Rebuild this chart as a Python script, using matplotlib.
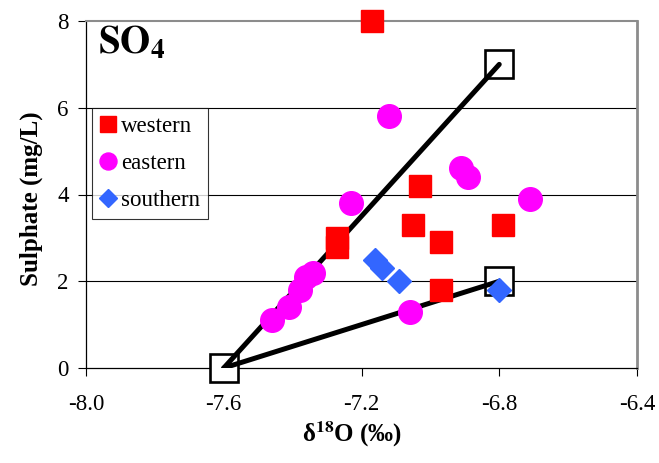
import matplotlib
matplotlib.use('Agg')
import matplotlib.pyplot as plt

plt.rcParams['font.family'] = ['Liberation Serif', 'DejaVu Serif']
plt.rcParams['mathtext.fontset'] = 'stix'

# Dữ liệu
western_x = [-7.17, -7.03, -7.05, -6.97, -6.79, -7.27, -7.27, -6.97]
western_y = [8.0, 4.2, 3.3, 2.9, 3.3, 3.0, 2.8, 1.8]

eastern_x = [-7.12, -6.91, -6.89, -6.71, -7.23, -7.06, -7.46, -7.41, -7.38, -7.36, -7.34]
eastern_y = [5.8, 4.6, 4.4, 3.9, 3.8, 1.3, 1.1, 1.4, 1.8, 2.1, 2.2]

southern_x = [-7.16, -7.14, -7.09, -6.80]
southern_y = [2.5, 2.3, 2.0, 1.8]

# end-members và hai đường trộn
end_x = [-7.6, -6.8, -6.8]
end_y = [0.0, 7.0, 2.0]
line1_x = [-7.6, -6.8]
line1_y = [0.0, 7.0]
line2_x = [-7.6, -6.8]
line2_y = [0.0, 2.0]

x_ticks = [-8.0, -7.6, -7.2, -6.8, -6.4]
y_ticks = [0, 2, 4, 6, 8]

fig = plt.figure(figsize=(6.59, 4.63), dpi=100)
ax = fig.add_axes([86 / 659, 1 - 368 / 463, 551 / 659, 347 / 463])

ax.set_xlim(-8.0, -6.4)
ax.set_ylim(0, 8)

# lưới ngang
for yv in y_ticks[1:-1]:
    ax.axhline(yv, color='black', lw=0.8, zorder=1)

ax.plot(end_x, end_y, ls='none', marker='s', ms=20, mfc='white', mec='black',
        mew=1.9, zorder=3, clip_on=False)
ax.plot(line1_x, line1_y, color='black', lw=3.6, solid_capstyle='round', zorder=3.5)
ax.plot(line2_x, line2_y, color='black', lw=3.6, solid_capstyle='round', zorder=3.5)

ax.plot(western_x, western_y, ls='none', marker='s', ms=16.5, color='#FF0000',
        label='western', zorder=4, clip_on=False)
ax.plot(eastern_x, eastern_y, ls='none', marker='o', ms=17, color='#FF00FF',
        label='eastern', zorder=4, clip_on=False)
ax.plot(southern_x, southern_y, ls='none', marker='D', ms=12.5, color='#3366FF',
        label='southern', zorder=4, clip_on=False)

ax.set_xticks(x_ticks)
ax.set_xticklabels(['%.1f' % v for v in x_ticks])
ax.set_yticks(y_ticks)
ax.tick_params(direction='out', length=5.5, width=0.8, colors='black', labelsize=16.5)
ax.tick_params(axis='x', pad=13)
ax.tick_params(axis='y', pad=7)

ax.spines['left'].set_color('black')
ax.spines['left'].set_linewidth(0.9)
ax.spines['bottom'].set_color('black')
ax.spines['bottom'].set_linewidth(0.9)
ax.spines['top'].set_color('#8c8c8c')
ax.spines['top'].set_linewidth(1.5)
ax.spines['right'].set_color('#8c8c8c')
ax.spines['right'].set_linewidth(2)

leg = ax.legend(loc='upper left', bbox_to_anchor=(0.0109, 0.749), borderaxespad=0,
                fontsize=16.5, markerscale=0.72, frameon=True, fancybox=False,
                handlelength=0.7, handletextpad=0.2, labelspacing=0.68,
                borderpad=0.36)
leg.get_frame().set_edgecolor('black')
leg.get_frame().set_linewidth(0.8)
leg.set_zorder(5)

ax.text(0.021, 0.908, r'$\mathbf{SO_4}$', transform=ax.transAxes, fontsize=28,
        va='baseline', ha='left')

fig.text(352 / 659, 1 - 434 / 463, r'δ$^{\mathbf{18}}$O (‰)', fontsize=18,
         fontweight='bold', ha='center', va='center')
fig.text(31 / 659, 1 - 198.5 / 463, 'Sulphate (mg/L)', fontsize=18,
         fontweight='bold', ha='center', va='center', rotation=90)

fig.savefig('out.png', dpi=100)
